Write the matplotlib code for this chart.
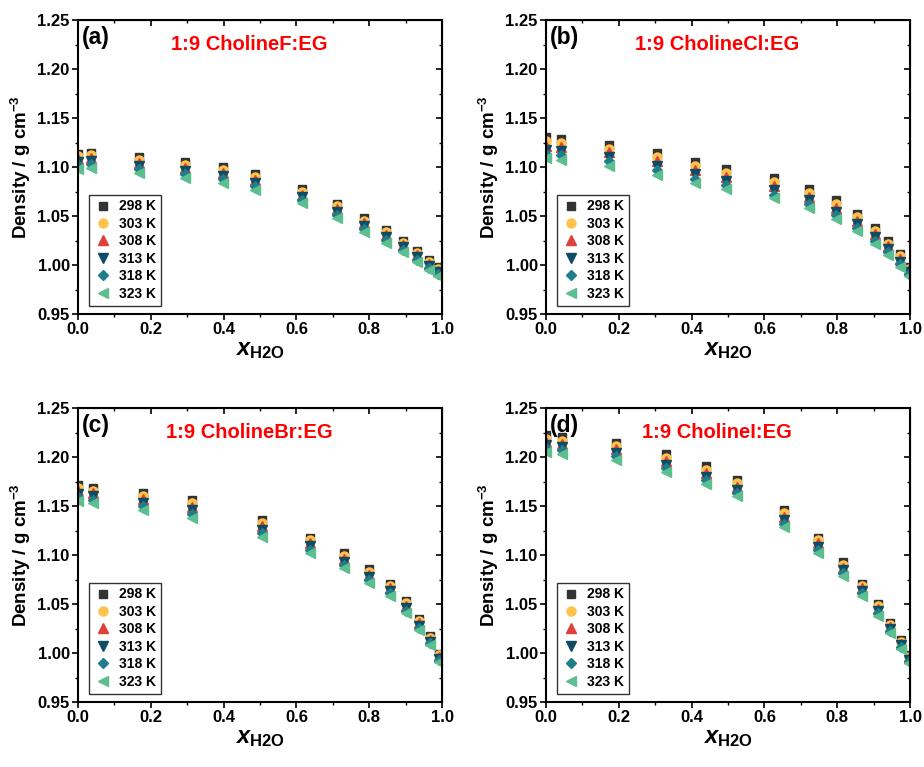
import matplotlib
matplotlib.use("Agg")
import matplotlib.pyplot as plt
from matplotlib.ticker import MultipleLocator

plt.rcParams["font.family"] = "Liberation Sans"
plt.rcParams["font.weight"] = "bold"
plt.rcParams["mathtext.fontset"] = "custom"
plt.rcParams["mathtext.rm"] = "Liberation Sans:bold"
plt.rcParams["mathtext.it"] = "Liberation Sans:italic:bold"
plt.rcParams["mathtext.bf"] = "Liberation Sans:bold"

temps = ["298 K", "303 K", "308 K", "313 K", "318 K", "323 K"]
colors = ["#333333", "#FFC24B", "#E0403A", "#0E4C63", "#1F7D8C", "#5DBE8F"]
markers = ["s", "o", "^", "v", "D", "<"]
msizes = [5.5, 6.5, 6.5, 6.5, 5.5, 6.5]

# (a) CholineF:EG
x_a = [0.0, 0.037, 0.167, 0.295, 0.399, 0.485, 0.616, 0.712, 0.786, 0.845, 0.893, 0.932, 0.964, 0.989]
d_a = [
    [1.113, 1.114, 1.110, 1.105, 1.100, 1.093, 1.078, 1.062, 1.048, 1.036, 1.025, 1.014, 1.005, 0.998],
    [1.111, 1.112, 1.107, 1.102, 1.097, 1.090, 1.075, 1.060, 1.045, 1.034, 1.023, 1.012, 1.003, 0.996],
    [1.108, 1.109, 1.104, 1.099, 1.094, 1.087, 1.072, 1.057, 1.043, 1.031, 1.020, 1.010, 1.001, 0.994],
    [1.105, 1.106, 1.101, 1.096, 1.091, 1.084, 1.069, 1.054, 1.040, 1.029, 1.018, 1.008, 0.999, 0.993],
    [1.102, 1.103, 1.098, 1.093, 1.088, 1.081, 1.066, 1.051, 1.037, 1.026, 1.015, 1.005, 0.997, 0.991],
    [1.098, 1.099, 1.094, 1.089, 1.084, 1.077, 1.063, 1.048, 1.034, 1.023, 1.013, 1.003, 0.995, 0.989],
]

# (b) CholineCl:EG
x_b = [0.0, 0.04, 0.173, 0.304, 0.408, 0.495, 0.626, 0.723, 0.796, 0.855, 0.904, 0.940, 0.972, 0.997]
d_b = [
    [1.131, 1.129, 1.123, 1.114, 1.105, 1.098, 1.089, 1.078, 1.066, 1.052, 1.038, 1.025, 1.011, 0.998],
    [1.127, 1.125, 1.119, 1.110, 1.101, 1.094, 1.085, 1.074, 1.062, 1.049, 1.035, 1.022, 1.009, 0.996],
    [1.122, 1.121, 1.115, 1.106, 1.097, 1.090, 1.081, 1.070, 1.058, 1.045, 1.032, 1.019, 1.006, 0.995],
    [1.118, 1.116, 1.110, 1.101, 1.093, 1.086, 1.077, 1.066, 1.054, 1.042, 1.029, 1.016, 1.003, 0.993],
    [1.113, 1.112, 1.106, 1.097, 1.088, 1.082, 1.072, 1.062, 1.051, 1.038, 1.025, 1.013, 1.001, 0.991],
    [1.109, 1.107, 1.101, 1.092, 1.084, 1.078, 1.068, 1.058, 1.047, 1.035, 1.022, 1.010, 0.998, 0.989],
]

# (c) CholineBr:EG
x_c = [0.0, 0.042, 0.178, 0.313, 0.505, 0.636, 0.73, 0.80, 0.857, 0.90, 0.937, 0.968, 0.991]
d_c = [
    [1.172, 1.169, 1.163, 1.156, 1.136, 1.118, 1.102, 1.086, 1.071, 1.053, 1.035, 1.017, 0.999],
    [1.169, 1.166, 1.160, 1.153, 1.133, 1.115, 1.099, 1.083, 1.068, 1.051, 1.033, 1.015, 0.998],
    [1.166, 1.163, 1.157, 1.149, 1.130, 1.112, 1.096, 1.080, 1.066, 1.048, 1.031, 1.013, 0.996],
    [1.162, 1.160, 1.153, 1.146, 1.126, 1.109, 1.093, 1.078, 1.063, 1.046, 1.028, 1.011, 0.994],
    [1.159, 1.156, 1.150, 1.142, 1.123, 1.105, 1.090, 1.075, 1.061, 1.043, 1.026, 1.010, 0.993],
    [1.155, 1.153, 1.146, 1.138, 1.119, 1.102, 1.087, 1.072, 1.058, 1.041, 1.024, 1.008, 0.991],
]

# (d) CholineI:EG
x_d = [0.0, 0.043, 0.192, 0.33, 0.439, 0.524, 0.655, 0.747, 0.815, 0.868, 0.912, 0.946, 0.976, 0.998]
d_d = [
    [1.223, 1.221, 1.215, 1.203, 1.191, 1.177, 1.146, 1.118, 1.093, 1.071, 1.050, 1.031, 1.013, 0.998],
    [1.219, 1.217, 1.211, 1.199, 1.187, 1.174, 1.143, 1.115, 1.090, 1.068, 1.048, 1.029, 1.011, 0.996],
    [1.216, 1.214, 1.208, 1.196, 1.184, 1.170, 1.139, 1.112, 1.087, 1.066, 1.045, 1.027, 1.009, 0.995],
    [1.212, 1.210, 1.204, 1.192, 1.180, 1.167, 1.136, 1.108, 1.085, 1.063, 1.043, 1.025, 1.008, 0.993],
    [1.209, 1.207, 1.201, 1.189, 1.177, 1.163, 1.132, 1.105, 1.082, 1.061, 1.041, 1.023, 1.006, 0.992],
    [1.205, 1.203, 1.197, 1.185, 1.173, 1.160, 1.129, 1.102, 1.079, 1.058, 1.038, 1.021, 1.004, 0.990],
]

panels = [
    ("(a)", "1:9 CholineF:EG", x_a, d_a),
    ("(b)", "1:9 CholineCl:EG", x_b, d_b),
    ("(c)", "1:9 CholineBr:EG", x_c, d_c),
    ("(d)", "1:9 CholineI:EG", x_d, d_d),
]

fig = plt.figure(figsize=(9.24, 7.67), dpi=100)
lefts = [0.0844, 0.5909]
bottoms = [0.5906, 0.0847]
w, h = 0.394, 0.383

for i, (tag, title, xs, dens) in enumerate(panels):
    ax = fig.add_axes([lefts[i % 2], bottoms[i // 2], w, h])
    for k in range(len(temps)):
        ax.plot(xs, dens[k], linestyle="none", marker=markers[k], ms=msizes[k],
                color=colors[k], mec=colors[k], label=temps[k])
    ax.set_xlim(0, 1.0)
    ax.set_ylim(0.95, 1.25)
    ax.xaxis.set_major_locator(MultipleLocator(0.2))
    ax.xaxis.set_minor_locator(MultipleLocator(0.1))
    ax.yaxis.set_major_locator(MultipleLocator(0.05))
    ax.yaxis.set_minor_locator(MultipleLocator(0.025))
    ax.xaxis.set_major_formatter(plt.FormatStrFormatter("%.1f"))
    ax.yaxis.set_major_formatter(plt.FormatStrFormatter("%.2f"))
    ax.tick_params(which="major", direction="out", length=4, width=1.2, labelsize=12, pad=2)
    ax.tick_params(which="minor", direction="out", length=2, width=1.0)
    for lab in ax.get_xticklabels() + ax.get_yticklabels():
        lab.set_fontweight("bold")
    for s in ax.spines.values():
        s.set_linewidth(1.5)

    top = ax.secondary_xaxis("top")
    top.xaxis.set_major_locator(MultipleLocator(0.2))
    top.xaxis.set_minor_locator(MultipleLocator(0.1))
    top.tick_params(which="major", direction="in", length=4, width=1.2, labeltop=False)
    top.tick_params(which="minor", direction="in", length=2, width=1.0)
    right = ax.secondary_yaxis("right")
    right.yaxis.set_major_locator(MultipleLocator(0.05))
    right.yaxis.set_minor_locator(MultipleLocator(0.025))
    right.tick_params(which="major", direction="in", length=4, width=1.2, labelright=False)
    right.tick_params(which="minor", direction="in", length=2, width=1.0)

    ax.set_xlabel(r"$x_{\mathrm{H2O}}$", fontsize=17, labelpad=1)
    ax.set_ylabel(r"Density / g cm$^{-3}$", fontsize=13.5, fontweight="bold", labelpad=3)
    ax.text(0.01, 0.98, tag, transform=ax.transAxes, fontsize=16.5, fontweight="bold",
            va="top", ha="left")
    ax.text(0.47, 0.918, title, transform=ax.transAxes, fontsize=14.5, fontweight="bold",
            color="red", va="center", ha="center")
    leg = ax.legend(loc="lower left", bbox_to_anchor=(0.012, 0.005), fontsize=10,
                    frameon=True, fancybox=False, edgecolor="black", labelspacing=0.25,
                    handletextpad=0.5, borderpad=0.35, handlelength=1.3, markerscale=1.0)
    leg.get_frame().set_linewidth(1.0)
    for t in leg.get_texts():
        t.set_fontweight("bold")

fig.savefig("out.png", dpi=100)
